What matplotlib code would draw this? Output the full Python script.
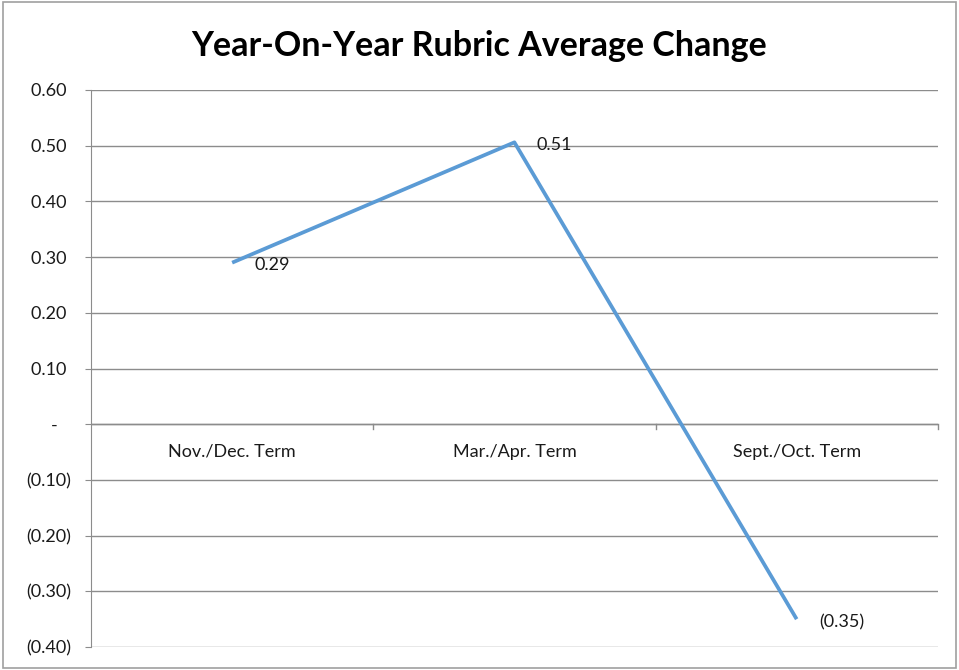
import matplotlib.pyplot as plt
from matplotlib.ticker import FuncFormatter, FixedLocator
from matplotlib.patches import Rectangle

categories = ['Nov./Dec. Term', 'Mar./Apr. Term', 'Sept./Oct. Term']
values = [0.29, 0.506, -0.35]
yticks = [-0.4, -0.3, -0.2, -0.1, 0.0, 0.1, 0.2, 0.3, 0.4, 0.5, 0.6]

plt.rcParams['font.family'] = ['Lato', 'DejaVu Sans']

grid_col = '#8c8c8c'
line_col = '#5b9bd5'
txt_col = '#1a1a1a'


def acct(v, pos=None):
    if abs(v) < 1e-9:
        return '-   '
    if v < 0:
        return '({:.2f})'.format(-v)
    return '{:.2f} '.format(v)


fig = plt.figure(figsize=(9.59, 6.70), dpi=100)
fig.patches.append(Rectangle((0.003, 0.003), 0.994, 0.994, transform=fig.transFigure,
                             fill=False, edgecolor='#a0a0a0', linewidth=1.2))
ax = fig.add_axes([0.0949, 0.0343, 0.883, 0.8314])

x = range(len(categories))
ax.plot(x, values, color=line_col, linewidth=2.7, solid_capstyle='butt', zorder=3)
for i, v in enumerate(values):
    ax.annotate(acct(v).strip(), (i, v), xytext=(16, -2), textcoords='offset points',
                ha='left', va='center', fontsize=13, color=txt_col)

ax.set_xlim(-0.5, 2.5)
ax.set_ylim(-0.4, 0.6)
ax.yaxis.set_major_locator(FixedLocator(yticks))
ax.yaxis.set_major_formatter(FuncFormatter(acct))
ax.grid(axis='y', color=grid_col, linewidth=1)
ax.set_axisbelow(True)

for s in ['top', 'right', 'bottom']:
    ax.spines[s].set_visible(False)
ax.spines['left'].set_color(grid_col)
ax.tick_params(axis='y', length=4.3, color=grid_col, labelsize=13, pad=10, labelcolor=txt_col)

# category axis at zero, ticks between categories
ax.axhline(0, color=grid_col, linewidth=1, zorder=1)
ax.set_xticks([])
for b in [0.5, 1.5, 2.5]:
    ax.plot([b, b], [0, -0.009], color=grid_col, linewidth=1, clip_on=False)
for i, c in enumerate(categories):
    ax.annotate(c, (i, 0), xytext=(0, -20), textcoords='offset points',
                ha='center', va='center', fontsize=13, color=txt_col)

fig.suptitle('Year-On-Year Rubric Average Change', fontsize=24.5, fontweight='bold',
             y=0.955)

plt.savefig('out.png')
plt.close()
